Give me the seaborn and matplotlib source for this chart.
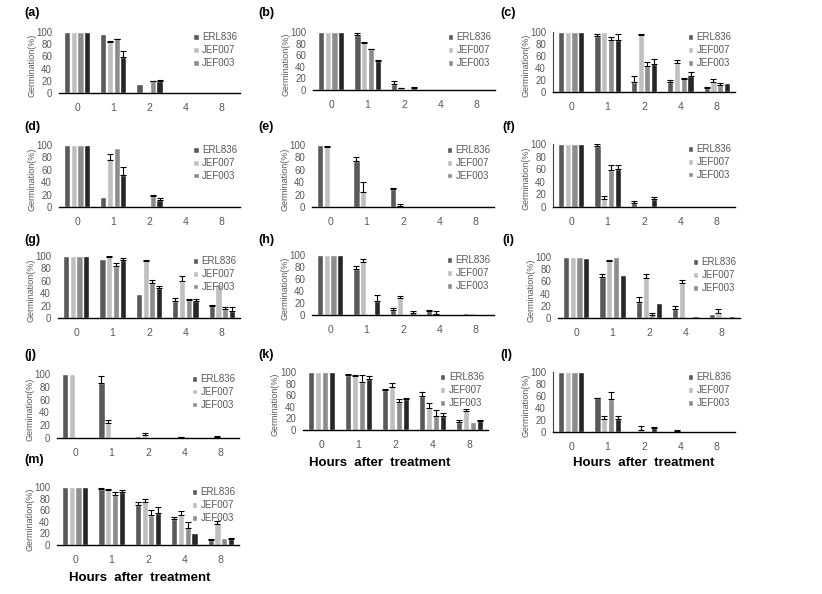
import numpy as np
import pandas as pd
import matplotlib
matplotlib.use("Agg")
import matplotlib.pyplot as plt
import seaborn as sns

hours = ["0", "1", "2", "4", "8"]
series = ["ERL836", "JEF007", "JEF003", "Isolate4"]
legend_names = ["ERL836", "JEF007", "JEF003"]
colors = ["#595959", "#bfbfbf", "#8c8c8c", "#262626"]

# mean germination (%) per series: ERL836, JEF007, JEF003, 4th (unlabelled)
a_mean = [[100, 97, 14, 1, 0], [100, 83, 1, 1, 0], [100, 88, 19, 1, 1], [100, 59, 19, 1, 0]]
a_err = [[0, 0, 0, 0, 0], [0, 3, 0, 0, 0], [0, 1, 1, 0, 0], [0, 10, 2, 0, 0]]
b_mean = [[100, 95, 10, 0, 1], [100, 81, 3, 0, 0], [100, 70, 2, 0, 0], [100, 50, 4, 0, 0]]
b_err = [[0, 3, 5, 0, 0], [0, 1, 1, 0, 0], [0, 1, 0, 0, 0], [0, 1, 1, 0, 0]]
c_mean = [[100, 94, 17, 16, 6], [100, 100, 95, 49, 16], [100, 87, 44, 21, 11], [100, 87, 46, 27, 15]]
c_err = [[0, 3, 10, 4, 2], [0, 0, 2, 4, 6], [0, 4, 6, 2, 4], [0, 9, 9, 7, 0]]
d_mean = [[100, 16, 1, 1, 1], [100, 76, 1, 0, 1], [100, 95, 17, 1, 0], [100, 51, 11, 0, 0]]
d_err = [[0, 0, 0, 0, 0], [0, 9, 0, 0, 0], [0, 0, 3, 0, 0], [0, 13, 4, 0, 0]]
e_mean = [[100, 75, 29, 1, 1], [97, 25, 2, 0, 0], [1, 0, 0, 0, 0], [0, 0, 0, 0, 0]]
e_err = [[0, 5, 2, 0, 0], [2, 15, 3, 0, 0], [0, 0, 0, 0, 0], [0, 0, 0, 0, 0]]
f_mean = [[100, 97, 7, 0, 0], [100, 12, 1, 0, 0], [100, 58, 1, 0, 0], [100, 61, 13, 0, 0]]
f_err = [[0, 3, 2, 0, 0], [0, 5, 0, 0, 0], [0, 8, 0, 0, 0], [0, 5, 3, 0, 0]]
g_mean = [[100, 95, 39, 27, 19], [100, 98, 92, 60, 55], [100, 84, 57, 29, 14], [100, 94, 48, 27, 12]]
g_err = [[0, 0, 0, 5, 2], [0, 2, 2, 8, 0], [0, 4, 4, 1, 4], [0, 2, 4, 3, 5]]
h_mean = [[100, 77, 9, 6, 3], [100, 89, 29, 2, 3], [100, 1, 1, 0, 0], [100, 23, 3, 0, 0]]
h_err = [[0, 5, 3, 3, 0], [0, 4, 3, 4, 0], [0, 0, 0, 0, 0], [0, 10, 3, 0, 0]]
i_mean = [[100, 68, 26, 15, 6], [100, 94, 66, 57, 9], [100, 100, 5, 0, 0], [98, 70, 24, 3, 3]]
i_err = [[0, 4, 8, 5, 0], [0, 1, 6, 5, 6], [0, 0, 3, 0, 0], [0, 0, 0, 0, 0]]
j_mean = [[100, 86, 3, 1, 1], [100, 24, 5, 1, 1], [0, 0, 0, 0, 0], [0, 0, 0, 0, 0]]
j_err = [[0, 11, 0, 0, 0], [0, 4, 3, 1, 2], [0, 0, 0, 0, 0], [0, 0, 0, 0, 0]]
k_mean = [[100, 94, 69, 58, 14], [100, 93, 74, 38, 33], [100, 83, 49, 25, 14], [100, 88, 53, 24, 15]]
k_err = [[0, 2, 2, 7, 4], [0, 2, 7, 9, 4], [0, 12, 5, 9, 0], [0, 5, 2, 5, 2]]
l_mean = [[100, 56, 0, 0, 0], [100, 22, 4, 2, 0], [100, 55, 0, 0, 0], [100, 22, 6, 0, 0]]
l_err = [[0, 1, 0, 0, 0], [0, 4, 6, 2, 0], [0, 11, 0, 0, 0], [0, 4, 2, 0, 0]]
m_mean = [[100, 96, 69, 44, 8], [100, 95, 74, 52, 37], [100, 87, 51, 30, 12], [100, 91, 55, 21, 10]]
m_err = [[0, 2, 5, 4, 3], [0, 2, 6, 6, 5], [0, 4, 10, 9, 0], [0, 4, 10, 0, 2]]

panels = [
    ("(a)", a_mean, a_err), ("(b)", b_mean, b_err), ("(c)", c_mean, c_err),
    ("(d)", d_mean, d_err), ("(e)", e_mean, e_err), ("(f)", f_mean, f_err),
    ("(g)", g_mean, g_err), ("(h)", h_mean, h_err), ("(i)", i_mean, i_err),
    ("(j)", j_mean, j_err), ("(k)", k_mean, k_err), ("(l)", l_mean, l_err),
    ("(m)", m_mean, m_err),
]

# axes boxes in pixels: left, top, right, bottom
boxes = [
    (59, 32, 240, 93), (313, 32, 495, 90), (553, 32, 735, 92),
    (59, 145, 240, 207), (312, 145, 494, 207), (553, 144, 735, 207),
    (58, 256, 240, 318), (312, 255, 494, 315), (558, 257, 740, 318),
    (57, 374, 239, 438), (303, 372, 488, 430), (553, 372, 735, 432),
    (57, 487, 239, 545),
]
label_pos = [
    (24, 13), (258, 13), (500, 13),
    (24, 127), (258, 127), (502, 127),
    (24, 240), (258, 240), (502, 240),
    (24, 355), (258, 355), (500, 355),
    (24, 460),
]
# panels that carry the x-axis title: index -> (center x px, center y px)
xtitles = {10: (380, 463), 11: (644, 463), 12: (140, 578)}
left_spine = {2, 5, 11}

sns.set_theme(style="white")
plt.rcParams["font.family"] = ["Liberation Sans", "DejaVu Sans"]

W, H = 822, 594
fig = plt.figure(figsize=(W / 100, H / 100), dpi=100)
gray = "#595959"

for idx, (tag, means, errs) in enumerate(panels):
    l, t, r, b = boxes[idx]
    ax = fig.add_axes([l / W, 1 - b / H, (r - l) / W, (b - t) / H])
    rows = []
    for s, vals in zip(series, means):
        for h, v in zip(hours, vals):
            rows.append({"hours": h, "series": s, "germ": v})
    df = pd.DataFrame(rows)
    sns.barplot(data=df, x="hours", y="germ", hue="series", order=hours,
                hue_order=series, palette=colors, saturation=1, width=0.74,
                gap=0.07, errorbar=None, legend=False, ax=ax)
    for cont, vals, ev in zip(ax.containers, means, errs):
        xs = np.array([p.get_x() + p.get_width() / 2 for p in cont])
        vals = np.array(vals, float)
        ev = np.array(ev, float)
        keep = ev > 0
        if keep.any():
            ax.errorbar(xs[keep], vals[keep], yerr=[np.zeros(keep.sum()), ev[keep]],
                        fmt="none", ecolor="black", elinewidth=0.8, capsize=2.2,
                        capthick=0.8)
    ax.set_ylim(0, 100)
    ax.set_xlim(-0.5, 4.5)
    ax.set_yticks([0, 20, 40, 60, 80, 100])
    ax.tick_params(axis="both", length=0, colors=gray)
    ax.tick_params(axis="y", labelsize=7, pad=5)
    ax.tick_params(axis="x", labelsize=7.5, pad=7)
    ax.set_ylabel("Germination(%)", fontsize=6.5, color=gray)
    ax.yaxis.set_label_coords(-0.125, 0.45)
    sns.despine(ax=ax, left=idx not in left_spine)
    ax.spines["bottom"].set_color("black")
    ax.spines["bottom"].set_linewidth(1)
    if idx in left_spine:
        ax.spines["left"].set_color("#404040")
        ax.spines["left"].set_linewidth(0.8)
    if idx in xtitles:
        cx, cy = xtitles[idx]
        ax.set_xlabel("Hours  after  treatment", fontsize=9.5, fontweight="bold",
                      color="black")
        ax.xaxis.set_label_coords((cx - l) / (r - l), -(cy - b) / (b - t))
        ax.xaxis.label.set_va("center")
    else:
        ax.set_xlabel("")
    leg = ax.legend(handles=list(ax.containers[:3]), labels=legend_names,
                    loc="upper left", bbox_to_anchor=(0.72, 1.06), frameon=False,
                    fontsize=7, handlelength=0.55, handleheight=0.55,
                    handletextpad=0.35, labelspacing=0.3, borderaxespad=0)
    for txt in leg.get_texts():
        txt.set_color(gray)
    px, py = label_pos[idx]
    fig.text(px / W, 1 - py / H, tag, fontsize=9, fontweight="bold",
             ha="left", va="center", color="black")

fig.savefig("out.png", dpi=100)
